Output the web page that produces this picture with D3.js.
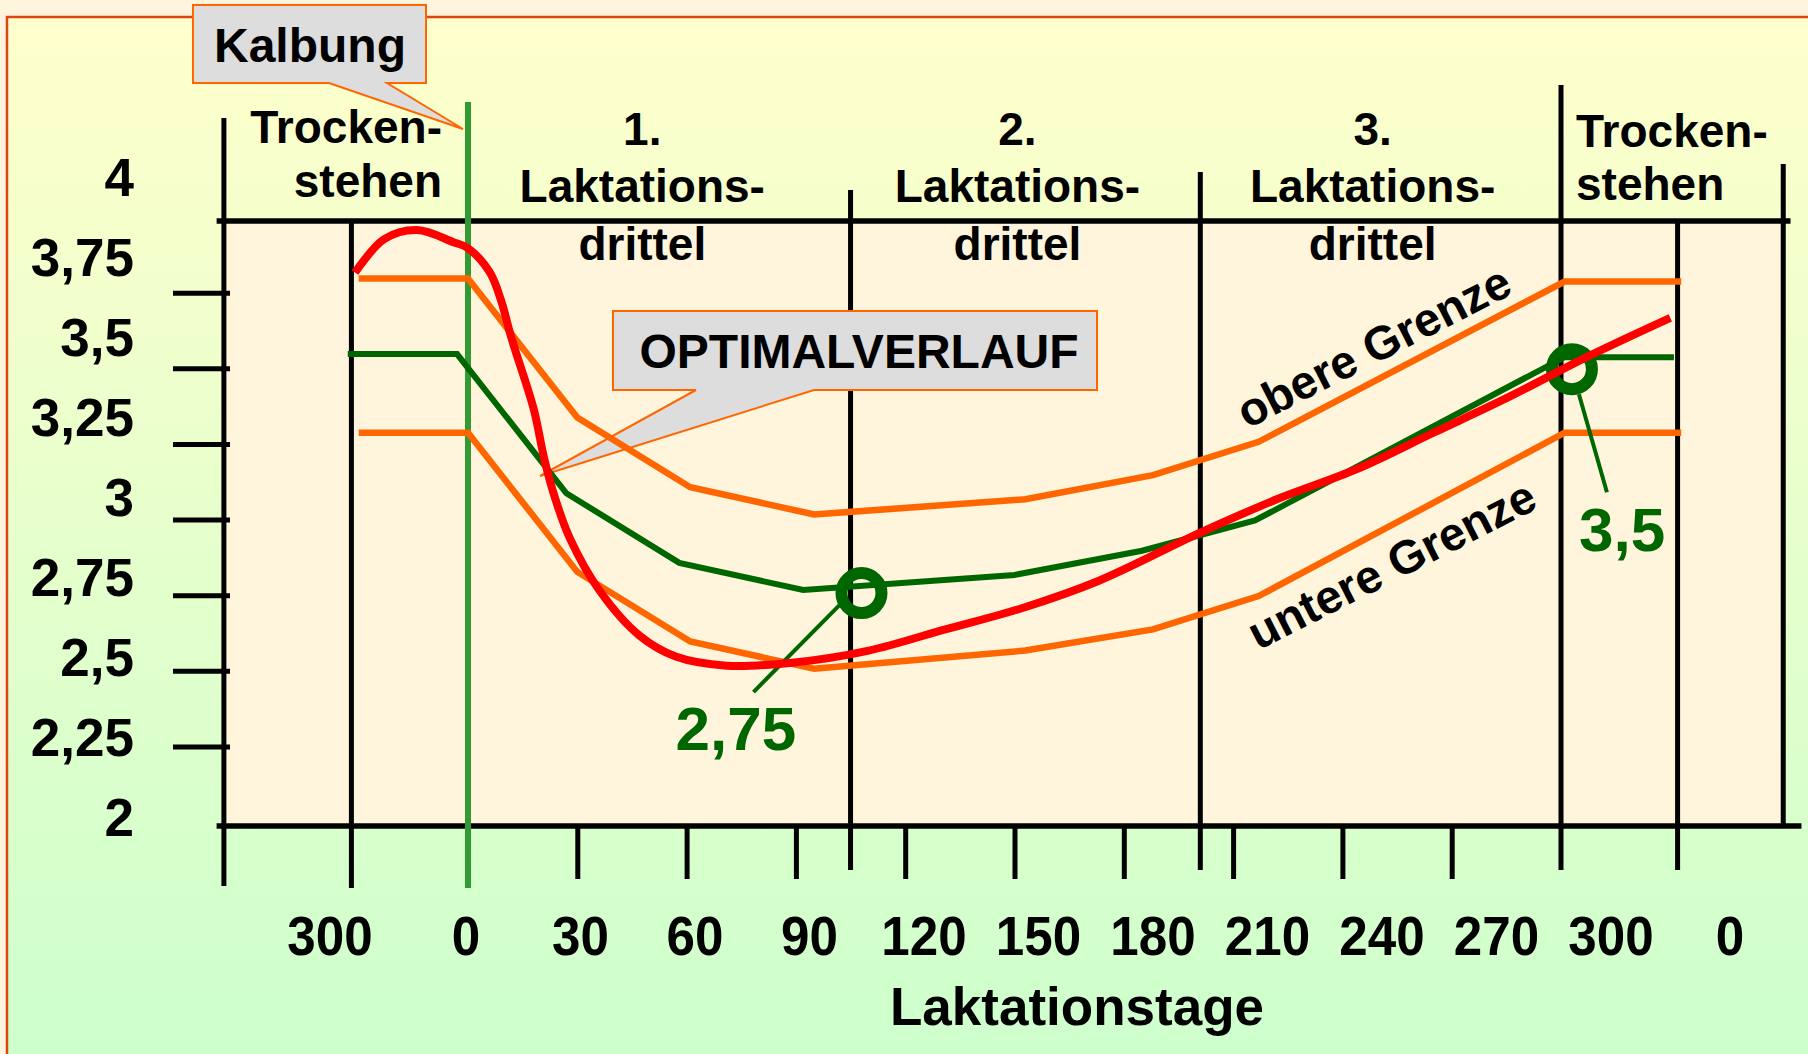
<!DOCTYPE html>
<html>
<head>
<meta charset="utf-8">
<script src="https://cdn.jsdelivr.net/npm/d3@7"></script>
<style>
  body { margin: 0; background: #fff4dd; }
  svg { display: block; }
  text { font-family: "Liberation Sans", Arial, sans-serif; font-weight: bold; }
</style>
</head>
<body>
<div id="chart"></div>
<script>
// --- data ---
const sectionBounds = [-67, -32, 0, 105, 201, 300, 332, 361]; // day positions of the vertical lines
const yTicks = [2.25, 2.5, 2.75, 3, 3.25, 3.5, 3.75];
const yLabels = [2, 2.25, 2.5, 2.75, 3, 3.25, 3.5, 3.75, 4];
const yLabelText = ["2", "2,25", "2,5", "2,75", "3", "3,25", "3,5", "3,75", "4"];
const dayTicks = [30, 60, 90, 120, 150, 180, 210, 240, 270];
const dayLabels = [-32, 0, 30, 60, 90, 120, 150, 180, 210, 240, 270, 300, 332];
const dayLabelText = ["300", "0", "30", "60", "90", "120", "150", "180", "210", "240", "270", "300", "0"];
const phaseText = [
  ["Trocken-", "stehen"],
  ["1.", "Laktations-", "drittel"],
  ["2.", "Laktations-", "drittel"],
  ["3.", "Laktations-", "drittel"],
  ["Trocken-", "stehen"]
];
const upperLimit = [[-30, 3.81], [0, 3.81], [30, 3.35], [61, 3.12], [95, 3.03], [153, 3.08], [188, 3.16], [217, 3.27], [301, 3.80], [333, 3.80]];
const lowerLimit = [[-30, 3.30], [0, 3.30], [30, 2.84], [61, 2.61], [95, 2.52], [153, 2.58], [188, 2.65], [217, 2.76], [301, 3.30], [333, 3.30]];
const meanCourse = [[-33, 3.56], [-3, 3.56], [27, 3.10], [58, 2.87], [92, 2.78], [150, 2.83], [185, 2.91], [216, 3.01], [301, 3.55], [331, 3.55]];
const optimalCourse = [[-31, 3.83], [-23, 3.94], [-14, 3.97], [-4, 3.93], [0, 3.91], [6, 3.83], [9, 3.74], [12, 3.61], [18, 3.38], [21, 3.21], [24, 3.08],
  [28, 2.95], [36, 2.78], [47, 2.63], [57, 2.56], [71, 2.53], [89, 2.54], [110, 2.58], [131, 2.65], [152, 2.72], [173, 2.81], [201, 2.97],
  [222, 3.08], [244, 3.18], [265, 3.30], [286, 3.42], [307, 3.55], [330, 3.68]];
const markerDays = [108, 303];
const markerValues = [2.77, 3.51];
const markerText = ["2,75", "3,5"];

const W = 1808, H = 1054;
const svg = d3.select("#chart").append("svg").attr("width", W).attr("height", H);

const grad = svg.append("defs").append("linearGradient")
  .attr("id", "bg").attr("x1", 0).attr("y1", 0).attr("x2", 0).attr("y2", 1);
grad.append("stop").attr("offset", "0%").attr("stop-color", "#ffffcc");
grad.append("stop").attr("offset", "100%").attr("stop-color", "#ccffcc");

svg.append("rect").attr("width", W).attr("height", H).attr("fill", "#fff4dd");
svg.append("rect").attr("x", 7).attr("y", 17).attr("width", W).attr("height", H)
  .attr("fill", "url(#bg)").attr("stroke", "#dd4411").attr("stroke-width", 2.5);

const x = d3.scaleLinear().domain([0, 300]).range([468, 1561]);
const y = d3.scaleLinear().domain([2, 4]).range([826, 221]);
// labels in the original sit a bit off their ticks
const xLab = d3.scaleLinear().domain([-32, 0, 300, 332]).range([330, 466, 1611, 1730]);
const yLab = d3.scaleLinear().domain([2, 4]).range([836, 196]);

const first = sectionBounds[0], last = sectionBounds[sectionBounds.length - 1];

// plot area
svg.append("rect")
  .attr("x", x(first)).attr("y", y(4))
  .attr("width", x(last) - x(first)).attr("height", y(2) - y(4))
  .attr("fill", "#fff5dc");

// y ticks
svg.append("g").attr("transform", "translate(230,-4)")
  .call(d3.axisLeft(y).tickValues(yTicks).tickSize(57).tickFormat(""))
  .call(g => g.select(".domain").remove())
  .selectAll("line").attr("stroke", "#000").attr("stroke-width", 5);

// x ticks
svg.append("g").attr("transform", `translate(0,${y(2)})`)
  .call(d3.axisBottom(x).tickValues(dayTicks).tickSize(53).tickFormat(""))
  .call(g => g.select(".domain").remove())
  .selectAll("line").attr("stroke", "#000").attr("stroke-width", 5);

// horizontal frame lines
svg.append("line").attr("x1", x(-69)).attr("x2", x(363)).attr("y1", y(4)).attr("y2", y(4))
  .attr("stroke", "#000").attr("stroke-width", 5.5);
svg.append("line").attr("x1", x(-69)).attr("x2", x(366)).attr("y1", y(2)).attr("y2", y(2))
  .attr("stroke", "#000").attr("stroke-width", 5.5);

// vertical section lines
const lineTop = [118, 221, 102, 190, 172, 85, 221, 164];
const lineBottom = [886, 888, 888, 870, 870, 870, 870, 826];
svg.append("g").selectAll("line").data(sectionBounds).join("line")
  .attr("x1", d => x(d)).attr("x2", d => x(d))
  .attr("y1", (d, i) => lineTop[i]).attr("y2", (d, i) => lineBottom[i])
  .attr("stroke", d => d === 0 ? "#339933" : "#000")
  .attr("stroke-width", d => d === 0 ? 6 : 5);

// y labels
svg.append("g").selectAll("text").data(yLabels).join("text")
  .attr("x", 134).attr("y", d => yLab(d))
  .attr("text-anchor", "end").attr("font-size", 53)
  .text((d, i) => yLabelText[i]);

// x labels (slightly condensed like the original)
svg.append("g").selectAll("text").data(dayLabels).join("text")
  .attr("transform", d => `translate(${xLab(d)},955) scale(0.93,1)`)
  .attr("text-anchor", "middle").attr("font-size", 55)
  .text((d, i) => dayLabelText[i]);

svg.append("text").attr("x", 1077).attr("y", 1025).attr("text-anchor", "middle")
  .attr("font-size", 53).text("Laktationstage");

// phase headers
const hdr = svg.append("g").attr("font-size", 46);
const hdrShift = [-17, -8, -8];
phaseText.forEach((lines, i) => {
  let anchor = "middle", px, base;
  if (i === 0) { anchor = "end"; px = x(0) - 26; base = [143, 197]; }
  else if (i === 4) { anchor = "start"; px = x(300) + 15; base = [147, 200]; }
  else {
    px = (x(sectionBounds[i + 1]) + x(sectionBounds[i + 2])) / 2 + hdrShift[i - 1];
    base = [145, 202, 260];
  }
  lines.forEach((t, j) => {
    hdr.append("text").attr("x", px).attr("y", base[j]).attr("text-anchor", anchor).text(t);
  });
});

// callouts
svg.append("path")
  .attr("d", "M193,5H426V83H387L463,129L329,83H193Z")
  .attr("fill", "#dddddd").attr("stroke", "#ff6600").attr("stroke-width", 2);
svg.append("text").attr("x", 310).attr("y", 62).attr("text-anchor", "middle")
  .attr("font-size", 48).text("Kalbung");

svg.append("path")
  .attr("d", "M613,311H1097V390H814L540,476L696,390H613Z")
  .attr("fill", "#dddddd").attr("stroke", "#ff6600").attr("stroke-width", 2);
svg.append("text").attr("x", 859).attr("y", 368).attr("text-anchor", "middle")
  .attr("font-size", 48).text("OPTIMALVERLAUF");

// curves
const line = d3.line().x(d => x(d[0])).y(d => y(d[1]));
svg.append("path").datum(upperLimit).attr("d", line)
  .attr("fill", "none").attr("stroke", "#ff6600").attr("stroke-width", 6.5);
svg.append("path").datum(lowerLimit).attr("d", line)
  .attr("fill", "none").attr("stroke", "#ff6600").attr("stroke-width", 6.5);
svg.append("path").datum(meanCourse).attr("d", line)
  .attr("fill", "none").attr("stroke", "#006600").attr("stroke-width", 6);

// rotated limit labels
svg.append("text").attr("transform", "translate(1381,361) rotate(-27)")
  .attr("text-anchor", "middle").attr("font-size", 47).text("obere Grenze");
svg.append("text").attr("transform", "translate(1399,579) rotate(-27)")
  .attr("text-anchor", "middle").attr("font-size", 47).text("untere Grenze");

// markers with leaders
const leadFrom = [[-22, 12], [7, 25]];
const leadTo = [[-108, 99], [35, 123]];
const labOff = [[-186, 157], [7, 182]];
const mk = svg.append("g");
markerDays.forEach((d, i) => {
  const cx = x(d), cy = y(markerValues[i]);
  mk.append("line")
    .attr("x1", cx + leadFrom[i][0]).attr("y1", cy + leadFrom[i][1])
    .attr("x2", cx + leadTo[i][0]).attr("y2", cy + leadTo[i][1])
    .attr("stroke", "#006600").attr("stroke-width", 4);
  mk.append("circle").attr("cx", cx).attr("cy", cy).attr("r", 20)
    .attr("fill", "none").attr("stroke", "#006600").attr("stroke-width", 12);
  mk.append("text").attr("x", cx + labOff[i][0]).attr("y", cy + labOff[i][1])
    .attr("font-size", 62).attr("fill", "#006600").text(markerText[i]);
});

svg.append("path").datum(optimalCourse)
  .attr("d", line.curve(d3.curveCatmullRom.alpha(0.5)))
  .attr("fill", "none").attr("stroke", "#ff0000").attr("stroke-width", 8);
</script>
</body>
</html>
